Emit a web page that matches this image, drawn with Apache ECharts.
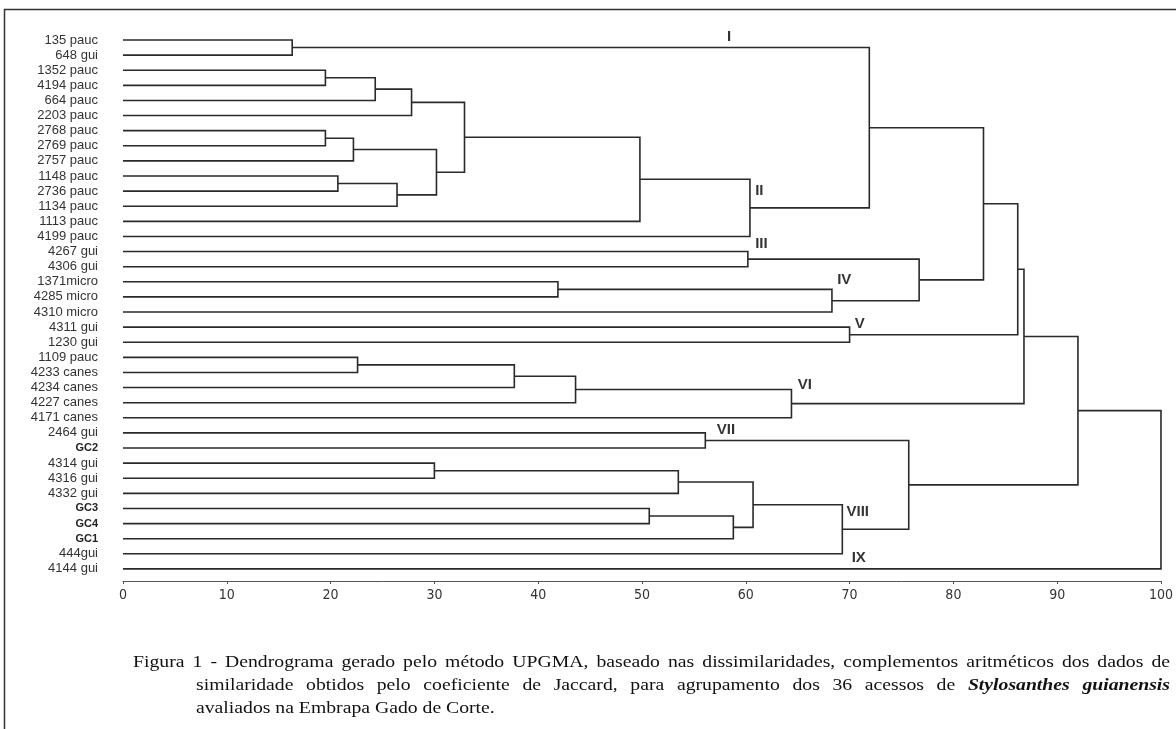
<!DOCTYPE html>
<html><head><meta charset="utf-8">
<script src="https://cdn.jsdelivr.net/npm/echarts@6/dist/echarts.min.js"></script>
<style>html,body{margin:0;padding:0;background:#fff}#c{width:1176px;height:729px}</style>
</head><body><div id="c"></div>
<script>
// ---- data ----
const leaves = ['135 pauc','648 gui','1352 pauc','4194 pauc','664 pauc','2203 pauc','2768 pauc','2769 pauc','2757 pauc','1148 pauc','2736 pauc','1134 pauc','1113 pauc','4199 pauc','4267 gui','4306 gui','1371micro','4285 micro','4310 micro','4311 gui','1230 gui','1109 pauc','4233 canes','4234 canes','4227 canes','4171 canes','2464 gui','GC2','4314 gui','4316 gui','4332 gui','GC3','GC4','GC1','444gui','4144 gui'];
// merges: node ids 0..35 are leaves, merge k creates node 36+k
const mergeA = [0, 2, 37, 38, 6, 40, 9, 42, 41, 39, 45, 46, 36, 14, 16, 50, 49, 48, 19, 53, 21, 56, 57, 58, 55, 26, 28, 62, 31, 64, 63, 66, 61, 60, 69];
const mergeB = [1, 3, 4, 5, 7, 8, 10, 11, 43, 44, 12, 13, 47, 15, 17, 18, 51, 52, 20, 54, 22, 23, 24, 25, 59, 27, 29, 30, 32, 33, 65, 34, 67, 68, 35];
const mergeHeight = [16.3, 19.5, 24.3, 27.8, 19.5, 22.2, 20.7, 26.4, 30.2, 32.9, 49.8, 60.4, 71.9, 60.2, 41.9, 68.3, 76.7, 82.9, 70.0, 86.2, 22.6, 37.7, 43.6, 64.4, 86.8, 56.1, 30.0, 53.5, 50.7, 58.8, 60.7, 69.3, 75.7, 92.0, 100];
const clusterNames = ['I','II','III','IV','V','VI','VII','VIII','IX'];
const xTickValues = [0, 10, 20, 30, 40, 50, 60, 70, 80, 90, 100];
const captionLine1 = 'Figura 1 - Dendrograma gerado pelo método UPGMA, baseado nas dissimilaridades, complementos aritméticos dos dados de';
const captionLine2 = [['similaridade obtidos pelo coeficiente de Jaccard, para agrupamento dos 36 acessos de', 'n'], ['Stylosanthes guianensis', 'bi']];
const captionLine3 = 'avaliados na Embrapa Gado de Corte.';

// ---- layout (label anchor positions in axis units) ----
const clusterPos = [[58.2,-0.2],[60.9,10.0],[60.9,13.5],[68.8,15.9],[70.5,18.8],[65.0,22.8],[57.2,25.8],[69.7,31.2],[70.2,34.3]];
const Y_MAX = 35.8;

// ---- build links ----
const nLeaf = leaves.length;
const nodeX = [], nodeY = [];
for (let i = 0; i < nLeaf; i++) { nodeX[i] = 0; nodeY[i] = i; }
const links = [];
mergeHeight.forEach((h, k) => {
  const a = mergeA[k], b = mergeB[k], id = nLeaf + k;
  nodeX[id] = h; nodeY[id] = (nodeY[a] + nodeY[b]) / 2;
  links.push({coords: [[nodeX[a], nodeY[a]], [h, nodeY[a]], [h, nodeY[b]], [nodeX[b], nodeY[b]]]});
});

// ---- caption (justified) ----
const ctx = document.createElement('canvas').getContext('2d');
function measure(t, font) { ctx.font = font; return ctx.measureText(t).width; }
const FS = 17, FAM = '"Liberation Serif", "Times New Roman", serif';
const fontN = FS + 'px ' + FAM, fontBI = 'italic bold ' + FS + 'px ' + FAM;
const SX = 990 / measure(captionLine1, fontN);
const graphics = [];
function justified(words, x0, x1, y) {
  const widths = words.map(w => measure(w[0], w[1] === 'bi' ? fontBI : fontN) * SX);
  const total = widths.reduce((s, v) => s + v, 0);
  const gap = (x1 - x0 - total) / (words.length - 1);
  let x = x0;
  words.forEach((w, i) => {
    graphics.push({type: 'text', x: x, y: y, scaleX: SX, silent: true,
      style: {text: w[0], font: w[1] === 'bi' ? fontBI : fontN, fill: '#111', align: 'left', verticalAlign: 'middle'}});
    x += widths[i] + gap;
  });
}
justified(captionLine1.split(' ').map(w => [w, 'n']), 133, 1170, 663);
const l2 = [];
captionLine2.forEach(seg => seg[0].split(' ').forEach(w => l2.push([w, seg[1]])));
justified(l2, 196, 1170, 686);
graphics.push({type: 'text', x: 196, y: 709, scaleX: SX, silent: true,
  style: {text: captionLine3, font: fontN, fill: '#111', align: 'left', verticalAlign: 'middle'}});
graphics.push({type: 'rect', shape: {x: 4.5, y: 9.5, width: 1300, height: 900}, silent: true,
  style: {fill: 'none', stroke: '#333', lineWidth: 1.5}});

const chart = echarts.init(document.getElementById('c'), null, {renderer: 'canvas'});
chart.setOption({
  animation: false,
  backgroundColor: '#fff',
  grid: {left: 123, right: 15, top: 40, bottom: 148},
  xAxis: {
    type: 'value', min: 0, max: 100, interval: 10, position: 'bottom',
    axisLine: {show: true, onZero: false, lineStyle: {color: '#555', width: 1}},
    axisTick: {show: true, length: 3, lineStyle: {color: '#555'}},
    splitLine: {show: false},
    axisLabel: {margin: 7, color: '#333', fontSize: 14, fontFamily: '"Liberation Sans Narrow", "DejaVu Sans Condensed", "Liberation Sans", sans-serif',
      formatter: v => xTickValues.indexOf(v) >= 0 ? String(v) : ''}
  },
  yAxis: {
    type: 'value', inverse: true, min: 0, max: Y_MAX, interval: 1,
    axisLine: {show: false}, axisTick: {show: false}, splitLine: {show: false},
    axisLabel: {margin: 25, color: '#333', fontSize: 13, fontFamily: '"Liberation Sans", Arial, sans-serif',
      showMaxLabel: false,
      formatter: v => {
        const i = Math.round(v);
        if (Math.abs(v - i) > 1e-6 || i < 0 || i >= leaves.length) return '';
        return /^GC/.test(leaves[i]) ? '{g|' + leaves[i] + '}' : leaves[i];
      },
      rich: {g: {fontWeight: 'bold', fontSize: 11, color: '#222', fontFamily: '"Liberation Sans", Arial, sans-serif'}}
    }
  },
  series: [
    {type: 'lines', coordinateSystem: 'cartesian2d', polyline: true, silent: true,
      lineStyle: {color: '#2a2a2a', width: 1.6, opacity: 1}, data: links, clip: false},
    {type: 'scatter', symbolSize: 0, silent: true, clip: false,
      data: clusterNames.map((n, i) => ({name: n, value: clusterPos[i]})),
      label: {show: true, position: 'inside', align: 'left', verticalAlign: 'middle', formatter: '{b}',
        color: '#000', fontSize: 15, fontWeight: 'bold', fontFamily: '"Liberation Sans", Arial, sans-serif'}}
  ],
  graphic: graphics
});
</script></body></html>
